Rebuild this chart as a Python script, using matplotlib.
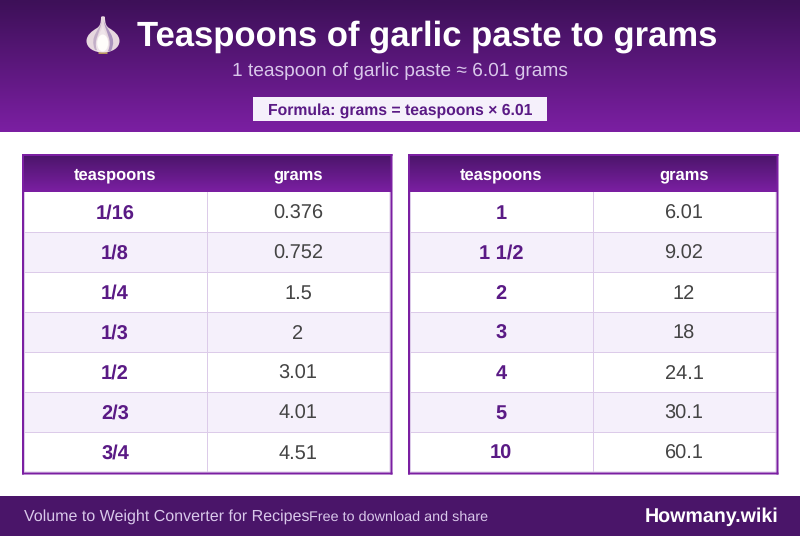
import numpy as np
import matplotlib
matplotlib.use("Agg")
import matplotlib.pyplot as plt
from matplotlib.patches import Rectangle, PathPatch, Ellipse
from matplotlib.path import Path

title = "Teaspoons of garlic paste to grams"
subtitle = "1 teaspoon of garlic paste ≈ 6.01 grams"
formula = "Formula: grams = teaspoons × 6.01"
headers = ["teaspoons", "grams"]
left_tsp = ["1/16", "1/8", "1/4", "1/3", "1/2", "2/3", "3/4"]
left_g = ["0.376", "0.752", "1.5", "2", "3.01", "4.01", "4.51"]
right_tsp = ["1", "1 1/2", "2", "3", "4", "5", "10"]
right_g = ["6.01", "9.02", "12", "18", "24.1", "30.1", "60.1"]
footer_left = "Volume to Weight Converter for Recipes"
footer_mid = "Free to download and share"
footer_right = "Howmany.wiki"

DARK = "#3d1058"
MID = "#4a1569"
PURPLE = "#7b1fa2"
TEXTP = "#5a1a85"
ALT = "#f5f0fb"
LINE = "#dccbe9"
FS = 0.72
plt.rcParams["font.family"] = ["Liberation Sans", "DejaVu Sans"]
plt.rcParams["text.hinting"] = "no_hinting"
plt.rcParams["text.hinting_factor"] = 8

fig = plt.figure(figsize=(8, 5.36), dpi=100, facecolor="white")
ax = fig.add_axes([0, 0, 1, 1])
ax.axis("off")


def vgrad(x0, x1, y0, y1, c0, c1, z=1):
    g = np.linspace(0, 1, 64).reshape(-1, 1)
    cm = matplotlib.colors.LinearSegmentedColormap.from_list("g", [c0, c1])
    ax.imshow(g, extent=(x0, x1, y1, y0), cmap=cm, aspect="auto", zorder=z,
              interpolation="bilinear")


def box(x0, y0, x1, y1, col, z=3):
    ax.add_patch(Rectangle((x0, y0), x1 - x0, y1 - y0, fc=col, ec="none", zorder=z, snap=False))


def label(x, y, s, col, px, ha="center", bold=False):
    ax.text(x, y, s, color=col, fontsize=px * FS, fontweight="bold" if bold else "normal",
            ha=ha, va="baseline", zorder=5)


vgrad(0, 800, 0, 132, DARK, PURPLE)


def shape(pts, col, z):
    codes = [Path.MOVETO] + [Path.CURVE4] * (len(pts) - 1)
    ax.add_patch(PathPatch(Path(pts, codes), fc=col, ec="none", zorder=z))


# garlic bulb (emoji stand-in)
box(98.5, 50, 107.5, 54, "#b8965e", z=3)
shape([(101, 17), (102, 16), (104, 16), (105, 17),
       (105, 23), (106, 26), (109, 28),
       (114, 31), (119.5, 35), (119.5, 41),
       (119.5, 48), (112, 52.5), (103, 52.5),
       (94, 52.5), (86.5, 48), (86.5, 41),
       (86.5, 35), (92, 31), (97, 28),
       (100, 26), (101, 23), (101, 17)], "#e7d8df", 4)
shape([(103.5, 20), (106, 30), (118, 36), (111, 51),
       (110, 51), (110, 51), (108, 51),
       (113, 40), (106, 34), (103.5, 20)], "#ab95bd", 5)
shape([(102, 20), (100, 30), (89, 36), (95, 50),
       (96, 50), (96, 50), (97, 50),
       (93, 40), (100, 34), (102, 20)], "#c3afc8", 5)
shape([(103, 24), (103, 33), (113, 40), (107, 52),
       (103, 52), (100, 52), (98, 52),
       (92, 40), (102, 33), (103, 24)], "#efe5ea", 6)
ax.add_patch(Ellipse((102.7, 43), 11, 17, fc="#fffdfb", ec="none", zorder=7))

label(137, 46, title, "white", 34.65, ha="left", bold=True)
label(400, 76.5, subtitle, "#d9c8ea", 19.2)
box(253, 97, 547, 121, ALT, z=4)
label(400, 114.5, formula, TEXTP, 15.75, bold=True)


def table(x0, tsp, grams):
    W, Y0, HH, RH, CW = 370, 154, 38, 40, 185
    vgrad(x0, x0 + W, Y0, Y0 + HH, MID, PURPLE, z=2)
    label(x0 + 93, Y0 + 25.8, headers[0], "white", 16.5, bold=True)
    label(x0 + 276, Y0 + 25.8, headers[1], "white", 16.5, bold=True)
    ybot = Y0 + HH + RH * len(tsp)
    for i, (a, b) in enumerate(zip(tsp, grams)):
        y = Y0 + HH + i * RH
        box(x0, y, x0 + W, y + RH, ALT if i % 2 else "white", z=2)
        box(x0, y + RH - .5 if i == len(tsp) - 1 else y + RH, x0 + W,
            y + RH + .5 if i == len(tsp) - 1 else y + RH + 1, LINE, z=3)
        label(x0 + 93, y + 27.05, a, TEXTP, 20, bold=True)
        label(x0 + 276, y + 27.05, b, "#444444", 20)
    box(x0 + CW, Y0 + HH, x0 + CW + 1, ybot, LINE, z=3)
    box(x0 + W - 2.5, Y0 + HH, x0 + W - 1.5, ybot, LINE, z=3)
    box(x0 + 2, Y0 + HH, x0 + 3, ybot, LINE, z=3)
    # table frame
    box(x0, Y0, x0 + W + .5, Y0 + 2, PURPLE, z=6)
    box(x0, ybot + .5, x0 + W + .5, ybot + 2.5, PURPLE, z=6)
    box(x0, Y0, x0 + 2, ybot + 2.5, PURPLE, z=6)
    box(x0 + W - 1.5, Y0, x0 + W + .5, ybot + 2.5, PURPLE, z=6)


table(22, left_tsp, left_g)
table(408, right_tsp, right_g)

box(0, 496, 800, 536, MID, z=2)
label(24, 521, footer_left, "#d9c8ea", 16, ha="left")
label(309, 521, footer_mid, "#d9c8ea", 14.4, ha="left")
label(778.5, 522, footer_right, "white", 19.6, ha="right", bold=True)

ax.set_xlim(0, 800)
ax.set_ylim(536, 0)
fig.savefig("out.png", dpi=100)
